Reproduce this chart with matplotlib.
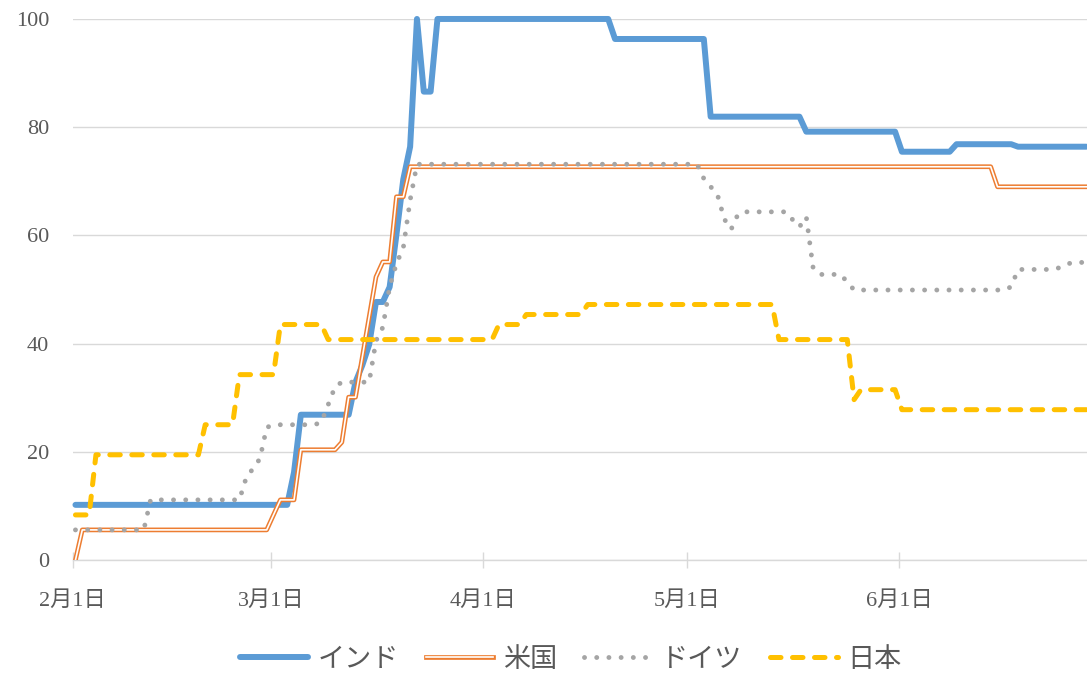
import numpy as np
from matplotlib import pyplot as plt

# 2020/2/1 からの日数 (0..148), 値は段ごとに (値, 日数)
india_vals = [10.19, 16.2, 26.85, 32.87, 36.0, 39.8, 47.69, 50.46, 60.19, 70.37,
              76.39, 100, 86.57, 100, 96.3, 81.94, 79.17, 75.46, 76.85, 76.39]
india_days = [32, 1, 8, 1, 1, 1, 2, 1, 1, 1,
              1, 1, 2, 26, 14, 14, 14, 8, 9, 11]

us_vals = [0, 5.56, 8.33, 11.11, 20.37, 21.76, 30.09, 37.5, 45.0, 52.31,
           55.09, 67.13, 72.69, 68.98]
us_days = [1, 28, 1, 3, 6, 1, 2, 1, 1, 1,
           2, 2, 86, 14]

germany_vals = [5.56, 11.11, 15.2, 16.9, 18.7, 24.5, 25.0, 25.46, 28.7, 32.0,
                32.87, 40.5, 43.0, 50.5, 54.8, 57.7, 66.5, 73.15, 70.5, 69.0,
                67.5, 63.0, 61.11, 63.9, 64.35, 62.9, 61.57, 63.43, 54.0, 52.78,
                51.4, 49.9, 50.5, 53.7, 54.0, 54.6, 55.0]
germany_days = [11, 14, 1, 1, 1, 1, 7, 1, 1, 1,
                5, 1, 1, 1, 1, 1, 1, 42, 1, 1,
                1, 1, 1, 1, 7, 1, 1, 1, 1, 4,
                1, 23, 1, 6, 1, 1, 3]

japan_vals = [8.33, 19.44, 25.0, 34.26, 43.52, 40.74, 43.52, 45.37, 47.22,
              40.74, 29.63, 31.48, 27.78]
japan_days = [3, 16, 5, 6, 7, 25, 4, 9, 28, 11, 1, 6, 28]

month_ticks = [0, 29, 60, 90, 121]
month_labels = ['2月1日', '3月1日', '4月1日', '5月1日', '6月1日']

india = np.repeat(india_vals, india_days)
us = np.repeat(us_vals, us_days)
germany = np.repeat(germany_vals, germany_days)
japan = np.repeat(japan_vals, japan_days)
x = np.arange(len(india)) + 0.4

plt.rcParams['font.family'] = ['Liberation Serif', 'Noto Sans CJK JP']
txt = '#595959'
grid_c = '#D9D9D9'

fig = plt.figure(figsize=(10.87, 6.75), dpi=100)
ax = fig.add_axes([0.0669, 0.1704, 0.9331, 0.8015])

l_in, = ax.plot(x, india, color='#5B9BD5', lw=4.3, solid_joinstyle='round',
                solid_capstyle='round', clip_on=False, zorder=3)
l_us1, = ax.plot(x, us, color='#ED7D31', lw=3.4, solid_joinstyle='round', zorder=4)
l_us2, = ax.plot(x, us, color='white', lw=1.2, solid_joinstyle='round', zorder=4)
l_de, = ax.plot(x, germany, color='#A5A5A5', lw=3.5, linestyle=(0, (0.01, 2.5)),
                dash_capstyle='round', zorder=5)
l_jp, = ax.plot(x, japan, color='#FFC000', lw=3.6, linestyle=(0, (2.1, 2.3)),
                dash_capstyle='round', zorder=6)

ax.set_xlim(0, 148.5)
ax.set_ylim(0, 100)
ax.set_yticks(range(0, 101, 20))
ax.set_xticks(month_ticks)
ax.set_xticklabels(month_labels)
ax.grid(True, axis='y', color=grid_c, lw=1.0)
ax.set_axisbelow(True)
for s in ['top', 'right', 'left']:
    ax.spines[s].set_visible(False)
ax.spines['bottom'].set_color(grid_c)
ax.spines['bottom'].set_linewidth(1.0)
ax.tick_params(axis='y', length=0, pad=17, labelsize=16, labelcolor=txt)
ax.tick_params(axis='x', direction='inout', length=11, width=1, color=grid_c,
               pad=17, labelsize=16, labelcolor=txt)

ax.legend([l_in, (l_us1, l_us2), l_de, l_jp], ['インド', '米国', 'ドイツ', '日本'],
          loc='center', bbox_to_anchor=(0.525, 0.022), bbox_transform=fig.transFigure,
          ncol=4, frameon=False, fontsize=19.5, handlelength=2.5,
          handletextpad=0.35, columnspacing=1.0, labelcolor=txt)

fig.savefig('out.png', dpi=100)
